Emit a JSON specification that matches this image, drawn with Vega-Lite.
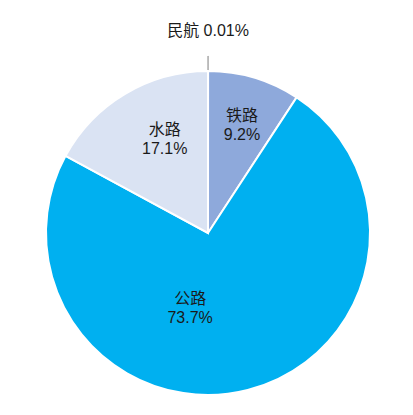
{
  "$schema": "https://vega.github.io/schema/vega-lite/v6.json",
  "autosize": "none",
  "width": 410,
  "height": 364,
  "padding": {"left": 3, "top": 51, "right": 0, "bottom": 0},
  "background": "white",
  "data": {
    "values": [
      {"idx": 1, "cat": "民航", "value": 0.01, "label": "民航 0.01%"},
      {"idx": 2, "cat": "铁路", "value": 9.2, "label": "铁路\n9.2%"},
      {"idx": 3, "cat": "公路", "value": 73.7, "label": "公路\n73.7%"},
      {"idx": 4, "cat": "水路", "value": 17.1, "label": "水路\n17.1%"}
    ]
  },
  "encoding": {
    "theta": {"field": "value", "type": "quantitative", "stack": true},
    "order": {"field": "idx", "type": "quantitative"}
  },
  "config": {"view": {"stroke": null}},
  "layer": [
    {
      "mark": {"type": "arc", "outerRadius": 162, "stroke": "white", "strokeWidth": 2},
      "encoding": {
        "color": {
          "field": "cat", "type": "nominal", "legend": null,
          "scale": {"domain": ["民航", "铁路", "公路", "水路"], "range": ["#A5A5A5", "#8EA9DB", "#00B0F0", "#DAE3F3"]}
        }
      }
    },
    {
      "mark": {"type": "arc", "innerRadius": 163, "outerRadius": 177, "fill": null, "stroke": "#999999", "strokeWidth": 0.8},
      "encoding": {
        "strokeOpacity": {"condition": {"test": "datum.cat === '民航'", "value": 1}, "value": 0}
      }
    },
    {
      "mark": {"type": "text", "radius": 202, "fontSize": 16, "font": "Liberation Sans, Noto Sans CJK SC", "color": "#1a1a1a", "baseline": "middle", "align": "center"},
      "encoding": {
        "text": {"condition": {"test": "datum.cat === '民航'", "field": "label"}, "value": ""}
      }
    },
    {
      "mark": {"type": "text", "radius": 119, "dy": -3, "fontSize": 16, "lineHeight": 19, "lineBreak": "\n", "font": "Liberation Sans, Noto Sans CJK SC", "color": "#1a1a1a", "baseline": "middle", "align": "center"},
      "encoding": {
        "text": {"condition": {"test": "datum.cat === '铁路'", "field": "label"}, "value": ""}
      }
    },
    {
      "mark": {"type": "text", "radius": 78, "dx": -37, "dy": -10, "fontSize": 16, "lineHeight": 19, "lineBreak": "\n", "font": "Liberation Sans, Noto Sans CJK SC", "color": "#1a1a1a", "baseline": "middle", "align": "center"},
      "encoding": {
        "text": {"condition": {"test": "datum.cat === '公路'", "field": "label"}, "value": ""}
      }
    },
    {
      "mark": {"type": "text", "radius": 110, "dx": 13, "dy": -8, "fontSize": 16, "lineHeight": 19, "lineBreak": "\n", "font": "Liberation Sans, Noto Sans CJK SC", "color": "#1a1a1a", "baseline": "middle", "align": "center"},
      "encoding": {
        "text": {"condition": {"test": "datum.cat === '水路'", "field": "label"}, "value": ""}
      }
    }
  ]
}
